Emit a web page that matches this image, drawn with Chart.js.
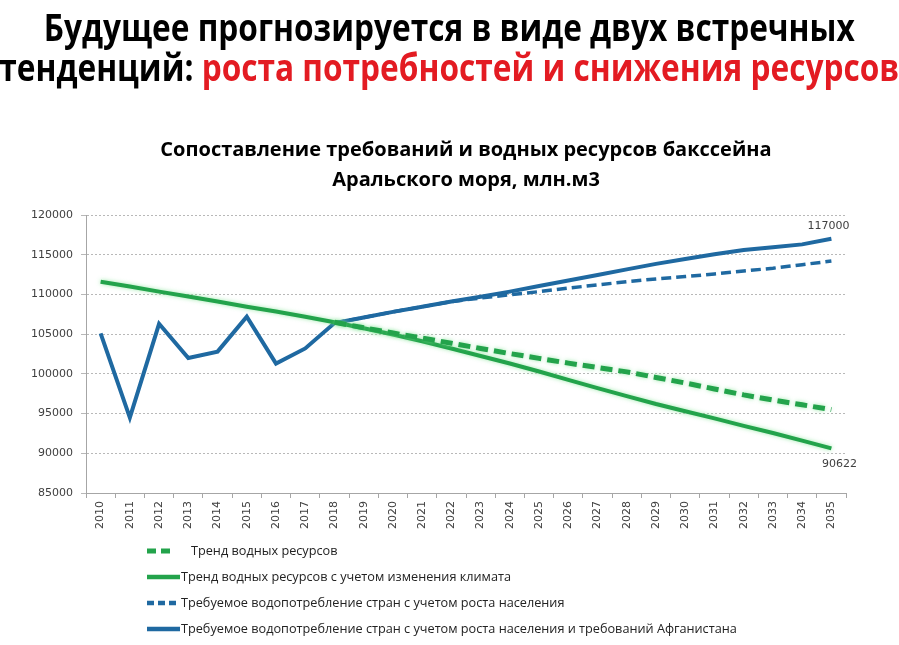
<!DOCTYPE html>
<html><head><meta charset="utf-8">
<script src="https://cdn.jsdelivr.net/npm/chart.js@4.4.1/dist/chart.umd.min.js"></script>
<style>
html,body{margin:0;padding:0;background:#fff;}
#wrap{position:relative;width:899px;height:645px;overflow:hidden;}
#head{position:absolute;left:0;top:7px;width:899px;display:flex;flex-direction:column;align-items:center;font-family:'Open Sans',sans-serif;font-weight:bold;font-size:37px;line-height:40px;color:#000;white-space:nowrap;}
#head div{transform:scaleX(0.855);transform-origin:center;flex:none;}
#head .red{color:#e31b22;}
canvas{position:absolute;left:0;top:0;}
</style></head>
<body><div id="wrap">
<canvas id="c" width="899" height="645" style="width:899px;height:645px"></canvas>
<div id="head"><div>Будущее прогнозируется в виде двух встречных</div><div>тенденций: <span class="red">роста потребностей и снижения ресурсов</span></div></div>
</div>
<script>
const years = ['2010','2011','2012','2013','2014','2015','2016','2017','2018','2019','2020','2021','2022','2023','2024','2025','2026','2027','2028','2029','2030','2031','2032','2033','2034','2035'];
const trendWater = [null,null,null,null,null,null,null,null,106500,105800,105150,104500,103860,103200,102550,101950,101350,100800,100250,99550,98850,98100,97350,96700,96100,95500];
const trendWaterClimate = [111600,111000,110350,109750,109100,108450,107850,107200,106500,105750,104950,104100,103200,102250,101300,100300,99250,98200,97200,96200,95300,94400,93450,92550,91600,90622];
const demandPopulation = [null,null,null,null,null,null,null,null,106400,107100,107800,108450,109100,109550,109950,110350,110800,111200,111600,111950,112250,112580,112950,113300,113750,114200];
const demandAfghanistan = [105100,94500,106300,102000,102800,107200,101300,103200,106400,107100,107800,108450,109100,109700,110350,111050,111750,112450,113150,113850,114450,115050,115600,115950,116300,117000];
const seriesNames = ['Тренд водных ресурсов','Тренд водных ресурсов с учетом изменения климата','Требуемое водопотребление стран с учетом роста населения','Требуемое водопотребление стран с учетом роста населения и требований Афганистана'];
const chartTitle = ['Сопоставление требований и водных ресурсов бакссейна','Аральского моря, млн.м3'];
const yMin = 85000, yMax = 120000, yStep = 5000;

const GREEN = '#23a34b', BLUE = '#1f69a1';

const glowPlugin = {
  id: 'glow',
  beforeDatasetDraw(chart, args) {
    const ctx = chart.ctx; ctx.save();
    if (args.index <= 1) { ctx.shadowColor = 'rgba(120,225,140,0.7)'; ctx.shadowBlur = 4; }
  },
  afterDatasetDraw(chart) { chart.ctx.restore(); }
};

const labelPlugin = {
  id: 'endLabels',
  afterDatasetsDraw(chart) {
    const ctx = chart.ctx; ctx.save();
    ctx.font = '11px "DejaVu Sans", Verdana, sans-serif';
    ctx.fillStyle = '#404040'; ctx.textAlign = 'center'; ctx.textBaseline = 'middle';
    const d3 = chart.data.datasets[3].data, m3 = chart.getDatasetMeta(3).data;
    const p3 = m3[m3.length - 1];
    ctx.fillText(String(d3[d3.length - 1]), p3.x - 3, p3.y - 13);
    const d1 = chart.data.datasets[1].data, m1 = chart.getDatasetMeta(1).data;
    const p1 = m1[m1.length - 1];
    ctx.fillText(String(d1[d1.length - 1]), p1.x + 8, p1.y + 16);
    ctx.restore();
  }
};

const legendPlugin = {
  id: 'customLegend',
  afterDraw(chart) {
    const ctx = chart.ctx; ctx.save();
    const rows = [551, 577, 603, 629];
    const textX = [191, 181, 181, 181];
    chart.data.datasets.forEach((ds, i) => {
      const y = rows[i];
      ctx.strokeStyle = ds.borderColor; ctx.lineWidth = i === 0 ? 5 : 4.5;
      ctx.lineCap = 'butt';
      if (i === 0) ctx.setLineDash([9, 5]); else if (i === 2) ctx.setLineDash([7, 4]); else ctx.setLineDash([]);
      ctx.beginPath(); ctx.moveTo(147, y); ctx.lineTo(i === 0 ? 170 : 180, y); ctx.stroke();
      ctx.setLineDash([]);
      ctx.font = '12.7px "Open Sans", sans-serif';
      ctx.fillStyle = '#222'; ctx.textAlign = 'left'; ctx.textBaseline = 'middle';
      ctx.fillText(ds.label, textX[i], y);
    });
    ctx.restore();
  }
};

new Chart(document.getElementById('c'), {
  type: 'line',
  data: {
    labels: years,
    datasets: [
      { label: seriesNames[0], data: trendWater, borderColor: GREEN, backgroundColor: GREEN, borderWidth: 5, borderDash: [12, 6], pointRadius: 0, fill: false, tension: 0 },
      { label: seriesNames[1], data: trendWaterClimate, borderColor: GREEN, backgroundColor: GREEN, borderWidth: 4, pointRadius: 0, fill: false, tension: 0 },
      { label: seriesNames[2], data: demandPopulation, borderColor: BLUE, backgroundColor: BLUE, borderWidth: 3.5, borderDash: [10, 5], pointRadius: 0, fill: false, tension: 0 },
      { label: seriesNames[3], data: demandAfghanistan, borderColor: BLUE, backgroundColor: BLUE, borderWidth: 4, pointRadius: 0, fill: false, tension: 0 }
    ]
  },
  options: {
    responsive: false, animation: false, devicePixelRatio: 1,
    layout: { padding: { top: 0, right: 53, bottom: 107, left: 0 } },
    plugins: {
      legend: { display: false }, tooltip: { enabled: false },
      title: { display: true, fullSize: false, text: chartTitle, color: '#000',
        font: { family: '"Open Sans", sans-serif', size: 20, weight: 'bold', lineHeight: 1.5 },
        padding: { top: 135, bottom: 20 } }
    },
    scales: {
      x: {
        offset: true,
        afterFit(s) { s.height = 45; },
        grid: { display: true, drawOnChartArea: false, drawTicks: true, tickLength: 5, offset: true, color: '#a6a6a6' },
        border: { display: true, color: '#a6a6a6' },
        ticks: { minRotation: 90, maxRotation: 90, padding: 3, autoSkip: false, color: '#404040', font: { family: '"DejaVu Sans", Verdana, sans-serif', size: 11 } }
      },
      y: {
        min: yMin, max: yMax,
        afterFit(s) { s.width = 86; },
        grid: { color: '#b8b8b8', tickLength: 5, drawTicks: true },
        border: { display: true, color: '#a6a6a6', dash: [2, 2] },
        ticks: { stepSize: yStep, padding: 8, color: '#404040', callback: v => String(v), font: { family: '"DejaVu Sans", Verdana, sans-serif', size: 11 } }
      }
    }
  },
  plugins: [glowPlugin, labelPlugin, legendPlugin]
});
</script>
</body></html>
